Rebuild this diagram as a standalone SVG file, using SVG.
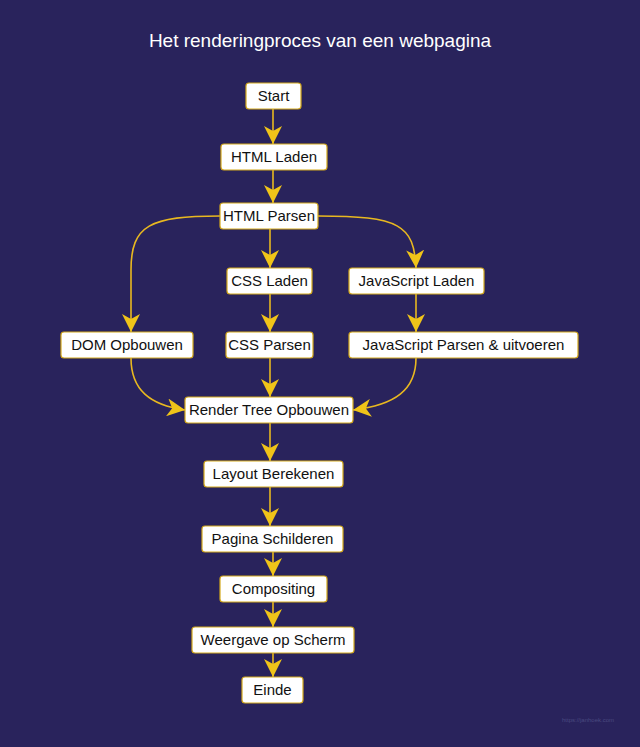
<svg xmlns="http://www.w3.org/2000/svg" width="640" height="747" viewBox="0 0 640 747">
<style>
.n rect{fill:#fff;stroke:#d4a91c;stroke-width:1.2}
.n text{font-family:"Liberation Sans",Arial,sans-serif;font-size:15px;fill:#111;text-anchor:middle}
.e path{fill:none;stroke:#e8b820;stroke-width:1.6}
</style>
<defs><marker id="a" viewBox="0 0 10 10" refX="9" refY="5" markerWidth="10" markerHeight="10" markerUnits="userSpaceOnUse" orient="auto"><path d="M0,0L10,5L0,10L3,5z" fill="#f0c419"/></marker>
<marker id="b" viewBox="0 0 18 18" refX="18" refY="9" markerWidth="18" markerHeight="18" markerUnits="userSpaceOnUse" orient="auto"><path d="M0,0L18,9L0,18L5,9z" fill="#f0c419"/></marker></defs>
<rect width="640" height="747" fill="#29235c"/>
<text x="320" y="47" font-family="Liberation Sans,Arial,sans-serif" font-size="19" fill="#fff" text-anchor="middle">Het renderingproces van een webpagina</text>
<g class="e" marker-end="url(#b)">
<path d="M273,109V144"/><path d="M273,170V203"/>
<path d="M270,229V268"/>
<path d="M220,216C150,216 131,225 131,270V332"/>
<path d="M318,216C400,216 414,225 416,268"/>
<path d="M270,294V332"/><path d="M416,294V332"/>
<path d="M270,358V397"/>
<path d="M131,358C131,390 150,405 185,410"/>
<path d="M416,358C416,390 395,405 353,410"/>
<path d="M270,423V461"/><path d="M270,487V526"/>
<path d="M273,552V576"/><path d="M273,602V627"/><path d="M273,653V677"/>
</g>
<g class="n" id="start"><rect x="246" y="83" width="55" height="26" rx="3"/><text x="273.5" y="101">Start</text></g>
<g class="n" id="htmlladen"><rect x="221" y="144" width="106" height="26" rx="3"/><text x="274" y="162">HTML Laden</text></g>
<g class="n" id="htmlparsen"><rect x="220" y="203" width="98" height="26" rx="3"/><text x="269" y="221">HTML Parsen</text></g>
<g class="n" id="cssladen"><rect x="227" y="268" width="85" height="26" rx="3"/><text x="269.5" y="286">CSS Laden</text></g>
<g class="n" id="jsladen"><rect x="349" y="268" width="135" height="26" rx="3"/><text x="416.5" y="286">JavaScript Laden</text></g>
<g class="n" id="dom"><rect x="61" y="332" width="132" height="26" rx="3"/><text x="127" y="350">DOM Opbouwen</text></g>
<g class="n" id="cssparsen"><rect x="226" y="332" width="87" height="26" rx="3"/><text x="269.5" y="350">CSS Parsen</text></g>
<g class="n" id="jsparsen"><rect x="349" y="332" width="229" height="26" rx="3"/><text x="463.5" y="350">JavaScript Parsen &amp; uitvoeren</text></g>
<g class="n" id="render"><rect x="185" y="397" width="168" height="26" rx="3"/><text x="269" y="415">Render Tree Opbouwen</text></g>
<g class="n" id="layout"><rect x="204" y="461" width="139" height="26" rx="3"/><text x="273.5" y="479">Layout Berekenen</text></g>
<g class="n" id="paint"><rect x="202" y="526" width="141" height="26" rx="3"/><text x="272.5" y="544">Pagina Schilderen</text></g>
<g class="n" id="comp"><rect x="220" y="576" width="107" height="26" rx="3"/><text x="273.5" y="594">Compositing</text></g>
<g class="n" id="weergave"><rect x="192" y="627" width="162" height="26" rx="3"/><text x="273" y="645">Weergave op Scherm</text></g>
<g class="n" id="einde"><rect x="242" y="677" width="61" height="26" rx="3"/><text x="272.5" y="695">Einde</text></g>
<text x="588" y="722" font-family="Liberation Sans,Arial,sans-serif" font-size="6" fill="#4a4a80" text-anchor="middle">https://janhoek.com</text>
</svg>
